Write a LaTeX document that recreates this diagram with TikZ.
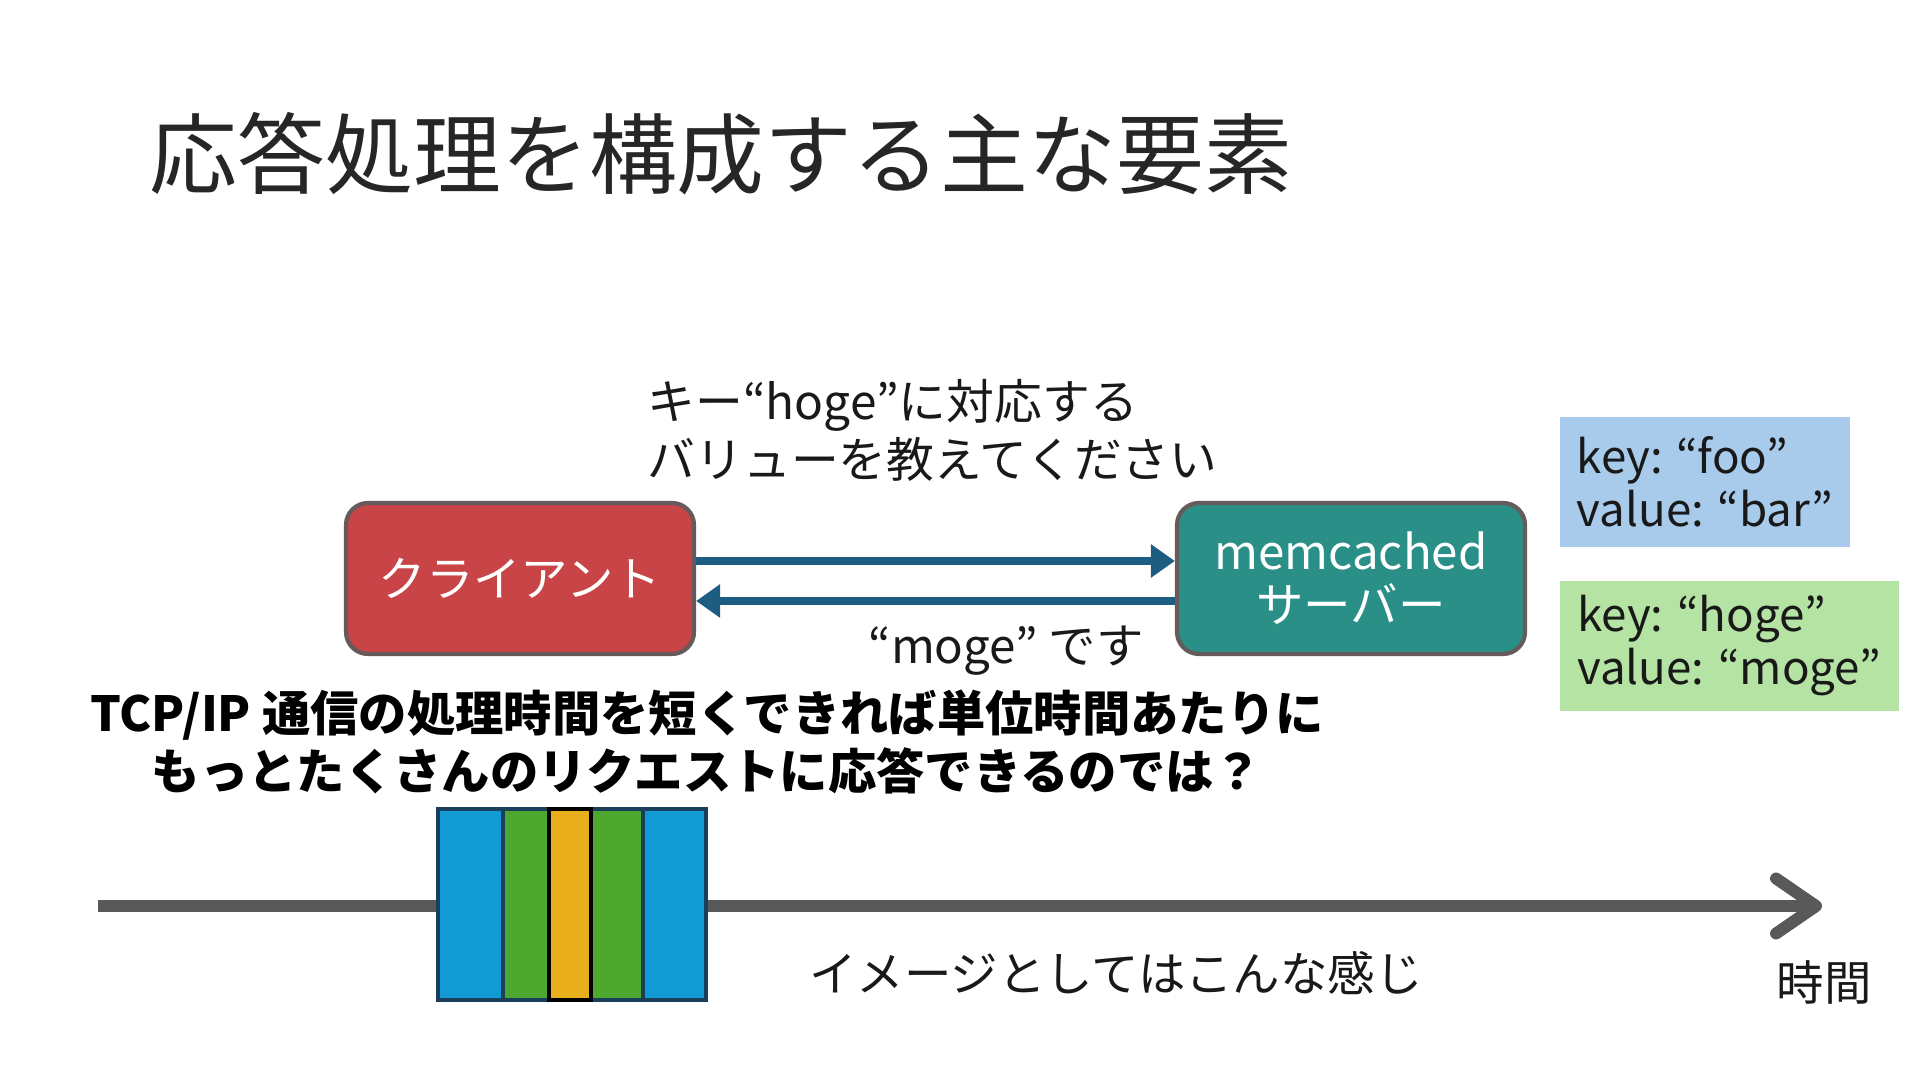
\documentclass[tikz,border=0pt]{standalone}
\usepackage{fontspec}
\setmainfont{Noto Sans CJK JP}
\usepackage{xcolor}
\usepackage{tikz}
\usetikzlibrary{arrows.meta, positioning}

\definecolor{clientred}{HTML}{C84446}
\definecolor{servergreen}{HTML}{2A9087}
\definecolor{boxborder}{HTML}{665A5A}
\definecolor{msgblue}{HTML}{1F5C82}
\definecolor{kvblue}{HTML}{A8CBEC}
\definecolor{kvgreen}{HTML}{B4E3A3}
\definecolor{timegray}{HTML}{595959}
\definecolor{barblue}{HTML}{129AD5}
\definecolor{bargreen}{HTML}{4EA72E}
\definecolor{barorange}{HTML}{E9AE1B}
\definecolor{barborder}{HTML}{1B3F5A}

\begin{document}
\begin{tikzpicture}[
  body/.style={font=\fontsize{13.5pt}{16pt}\selectfont, text=black!90},
  host/.style={draw=boxborder, line width=1.2pt, rounded corners=0.22cm, minimum width=3.48cm, minimum height=1.51cm, align=center, text=white, font=\fontsize{13.5pt}{15pt}\selectfont},
  kvbox/.style={body, anchor=north west, align=left, inner xsep=0.17cm, inner ysep=0.1cm, font=\fontsize{13pt}{15.2pt}\selectfont},
  msg/.style={-{Triangle[length=0.24cm, width=0.32cm]}, draw=msgblue, line width=2.5pt},
  segment/.style={draw=barborder, line width=1.1pt}
]
  \useasboundingbox (0,0) rectangle (19.2,10.8);

  % TITLE
  \node (title) [anchor=west, font=\fontsize{25pt}{28pt}\selectfont, text=black!85, inner sep=0] at (1.49, 9.26) {応答処理を構成する主な要素};

  % CLIENT / SERVER EXCHANGE
  \node (client) [host, fill=clientred] at (5.20, 5.015) {クライアント};
  \node (server) [host, fill=servergreen] at (13.51, 5.015) {memcached\\サーバー};

  \draw[msg] ([yshift=1.75mm]client.east) -- ([yshift=1.75mm]server.west);
  \draw[msg] ([yshift=-2.25mm]server.west) -- ([yshift=-2.25mm]client.east);

  \node (request) [body, anchor=west, align=left, inner sep=0, font=\fontsize{13.6pt}{16.3pt}\selectfont] at (6.47, 6.495) {キー“hoge”に対応する\\バリューを教えてください};
  \node (reply) [body] at (10.06, 4.29) {“moge” です};

  % KEY-VALUE STORE
  \node (kvfoo) [kvbox, fill=kvblue, minimum width=2.89cm, minimum height=1.30cm] at (15.59, 6.64) {key: “foo”\\value: “bar”};
  \node (kvhoge) [kvbox, fill=kvgreen, minimum width=3.39cm, minimum height=1.30cm] at (15.59, 5.00) {key: “hoge”\\value: “moge”};

  % QUESTION
  \node (question) [body, align=center, font=\bfseries\fontsize{13.75pt}{16.5pt}\selectfont, text=black] at (7.07, 3.38) {TCP/IP 通信の処理時間を短くできれば単位時間あたりに\\もっとたくさんのリクエストに応答できるのでは？};

  % TIMELINE
  \coordinate (tstart) at (0.98, 1.74);
  \coordinate (tend) at (18.22, 1.74);
  \draw[draw=timegray, line width=3.4pt, -{Straight Barb[length=0.4cm, width=0.55cm, round]}] (tstart) -- (tend);

  \foreach \xa/\xb/\col in {4.38/5.03/barblue, 5.03/5.49/bargreen, 5.91/6.43/bargreen, 6.43/7.06/barblue}
    \draw[segment, fill=\col] (\xa, 0.80) rectangle (\xb, 2.71);
  \draw[segment, draw=black, fill=barorange] (5.49, 0.80) rectangle (5.91, 2.71);

  \node (image) [body] at (11.16, 1.07) {イメージとしてはこんな感じ};
  \node (timelabel) [body] at (18.24, 0.98) {時間};

\end{tikzpicture}
\end{document}
